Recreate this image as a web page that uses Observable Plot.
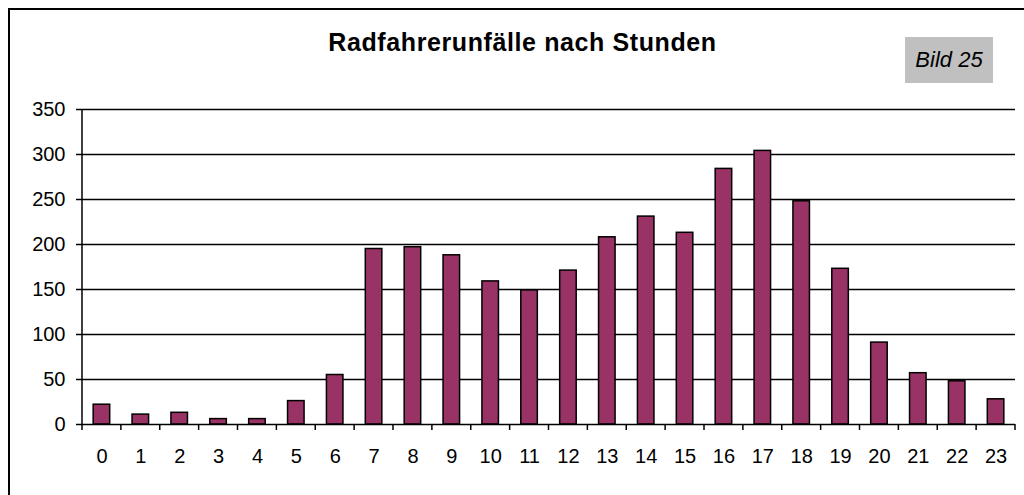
<!DOCTYPE html>
<html>
<head>
<meta charset="utf-8">
<script src="https://cdn.jsdelivr.net/npm/d3@7"></script>
<script src="https://cdn.jsdelivr.net/npm/@observablehq/plot@0.6"></script>
<style>
  html, body { margin: 0; padding: 0; background: #fff; }
  #wrap { position: relative; width: 1024px; height: 495px; overflow: hidden; font-family: "Liberation Sans", Arial, sans-serif; }
  #frame { position: absolute; left: 8px; top: 8px; width: 1100px; height: 600px; border-left: 2px solid #000; border-top: 2px solid #000; box-sizing: border-box; }
  #title { position: absolute; left: 0; width: 1045px; top: 28px; text-align: center; font-weight: bold; font-size: 25px; letter-spacing: 0.6px; color: #000; }
  #bild { position: absolute; left: 905px; top: 37px; width: 88px; height: 46px; background: #c0c0c0; font-style: italic; font-size: 22px; line-height: 46px; text-align: center; color: #000; }
  #chart { position: absolute; left: 0; top: 0; width: 1024px; }
</style>
</head>
<body>
<div id="wrap">
  <div id="frame"></div>
  <div id="chart"></div>
  <div id="title">Radfahrerunfälle nach Stunden</div>
  <div id="bild">Bild 25</div>
</div>
<script>
const hours = [0,1,2,3,4,5,6,7,8,9,10,11,12,13,14,15,16,17,18,19,20,21,22,23];
const accidents = [22,11,13,6,6,26,55,195,197,188,159,149,171,208,231,213,284,304,248,173,91,57,48,28];
const yTicks = [0,50,100,150,200,250,300,350];

const data = hours.map((h, i) => ({hour: h, value: accidents[i]}));
const padInner = 0.575;

function axisLines(index, scales, values, dims) {
  const x = scales.x, y = scales.y;
  const g = d3.create("svg:g").attr("stroke", "#000").attr("stroke-width", 1.5).attr("fill", "none");
  const step = x.step(), bw = x.bandwidth();
  const y0 = y(0);
  const bounds = hours.map(h => x(h) + bw / 2 - step / 2);
  bounds.push(x(hours[hours.length - 1]) + bw / 2 + step / 2);
  for (const b of bounds) g.append("line").attr("x1", b).attr("x2", b).attr("y1", y0).attr("y2", y0 + 6);
  g.append("line").attr("x1", bounds[0]).attr("x2", bounds[0]).attr("y1", y(350)).attr("y2", y0);
  return g.node();
}

const chart = Plot.plot({
  width: 1024,
  height: 495,
  marginLeft: 82,
  marginRight: 9,
  marginTop: 109,
  marginBottom: 71,
  style: {fontFamily: "'Liberation Sans', Arial, sans-serif", fontSize: "20px", color: "#000", background: "transparent", overflow: "visible"},
  x: {type: "band", domain: hours, paddingInner: padInner, paddingOuter: padInner / 2, align: 0.5, round: false},
  y: {domain: [0, 350]},
  marks: [
    Plot.gridY(yTicks.filter(d => d > 0), {stroke: "#000", strokeOpacity: 1, strokeWidth: 1.5}),
    Plot.barY(data, {x: "hour", y: "value", fill: "#993366", stroke: "#000", strokeWidth: 1.5}),
    Plot.ruleY([0], {stroke: "#000", strokeWidth: 1.5}),
    Plot.axisY({ticks: yTicks, tickSize: 6, tickPadding: 11, stroke: "#000", strokeWidth: 1.5, label: null, fontSize: 20}),
    Plot.axisX({tickSize: 0, tickPadding: 24, label: null, fontSize: 20}),
    axisLines
  ]
});
document.getElementById("chart").appendChild(chart);
</script>
</body>
</html>
